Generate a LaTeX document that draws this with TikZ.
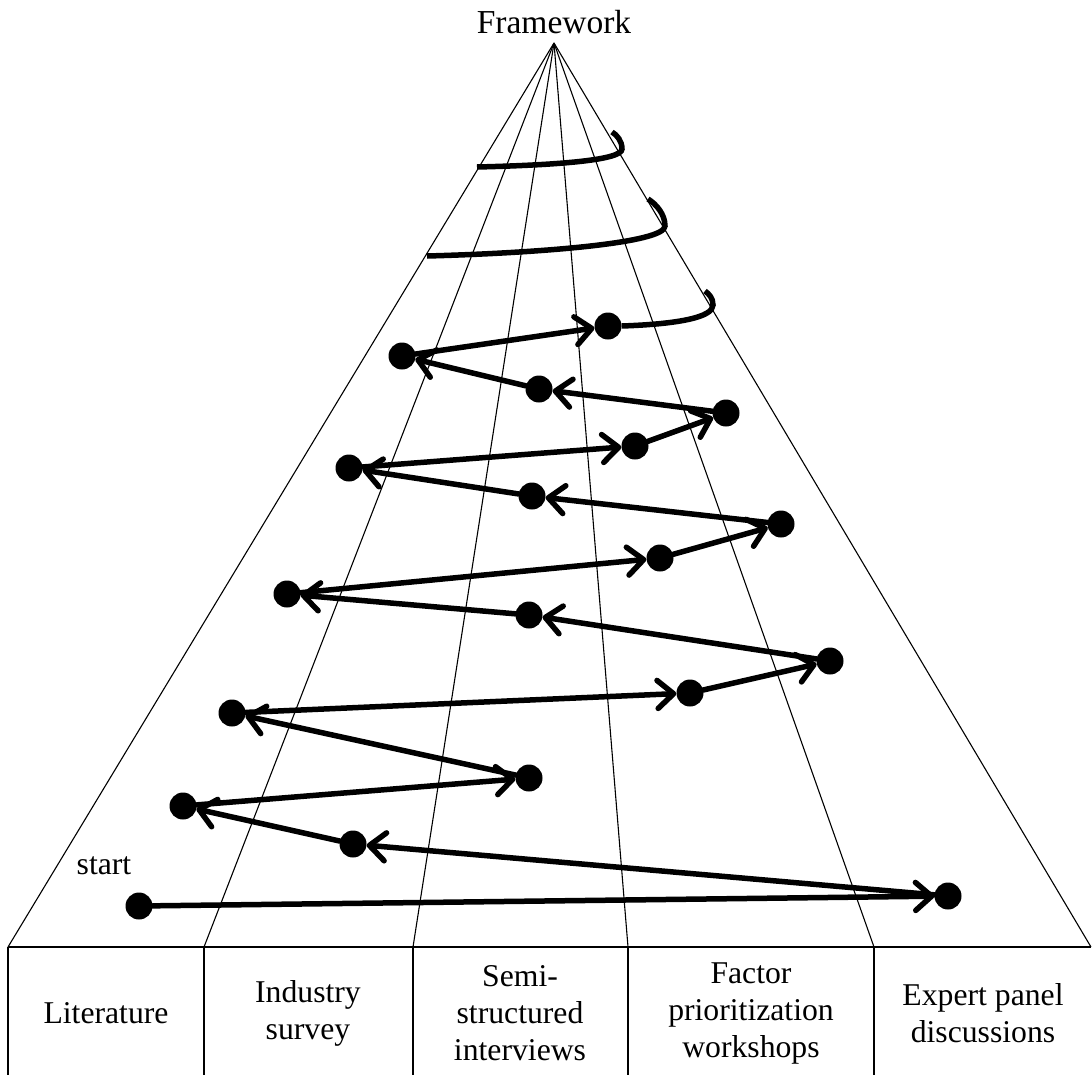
\documentclass[tikz,border=0pt]{standalone}
\usepackage{fontspec}
\setmainfont{Liberation Serif}
\usetikzlibrary{arrows.meta}

\begin{document}
\begin{tikzpicture}[
	  x=1pt, y=-1pt,
	  fan/.style={line width=1.1pt},
	  waypoint/.style={circle, fill=black, inner sep=0pt, minimum size=27pt},
	  hop/.style={line width=5.5pt, line cap=round, -{Straight Barb[length=16pt, width=28pt, round]}},
	  spiral/.style={line width=5.5pt},
	  column/.style={align=center, font=\fontsize{31.7}{37}\selectfont},
	]
	\useasboundingbox (0,0) rectangle (1092,1074);
	
	% Cone
	\coordinate (apex) at (554,43);
	\foreach \x [count=\k from 0] in {8,204,413,628,874,1091}
		\coordinate (b\k) at (\x,947);
	\foreach \k in {0,...,5}
		\draw[fan] (apex) -- (b\k);
	\node[font=\fontsize{33.5}{40}\selectfont] (framework) at (554,22) {Framework};
	
	% Columns
	\draw[fan] (b0) -- (b5);
	\foreach \k in {0,...,4}
		\draw[fan] (b\k) -- ++(0,130);
	\node[column] (lit) at (106,1013) {Literature};
	\node[column] (survey) at (308,1013) {Industry\\survey};
	\node[column] (interviews) at (520,1013) {Semi-\\structured\\interviews};
	\node[column] (workshops) at (751,1013) {Factor\\prioritization\\workshops};
	\node[column] (panel) at (983,1013) {Expert panel\\discussions};
	
	% Zigzag path
	\foreach \x/\y [count=\i] in {139/906, 948/896, 353/844, 183/806, 529/778,
		232/713, 690/693, 830/661, 529/615, 287/594, 660/558, 781/524,
		532/496, 349/468, 635/446, 726/413, 539/389, 402/356, 608/326}
		\node[waypoint] (p\i) at (\x,\y) {};
	\node[font=\fontsize{31.7}{37}\selectfont] (start) at (104,866) {start};
	\foreach \i [evaluate=\i as \j using int(\i+1)] in {1,...,18}
		\draw[hop] (p\i) -- (p\j);
	
	% Spiral to the top
	\coordinate (hook3) at (705,291);
	\coordinate (arc2) at (427,256);
	\coordinate (hook2) at (648,199);
	\coordinate (arc1) at (477,167);
	\coordinate (hook1) at (612,132);
	\draw[spiral] (p19.east) .. controls (680,324) and (713,317) .. (713,305)
		.. controls (713,298) and (709,294) .. (hook3);
	\draw[spiral] (arc2) .. controls (540,253) and (665,243) .. (665,226)
		.. controls (665,214) and (656,204) .. (hook2);
	\draw[spiral] (arc1) .. controls (560,165) and (622,160) .. (622,149)
		.. controls (622,141) and (617,135) .. (hook1);
	
\end{tikzpicture}
\end{document}
